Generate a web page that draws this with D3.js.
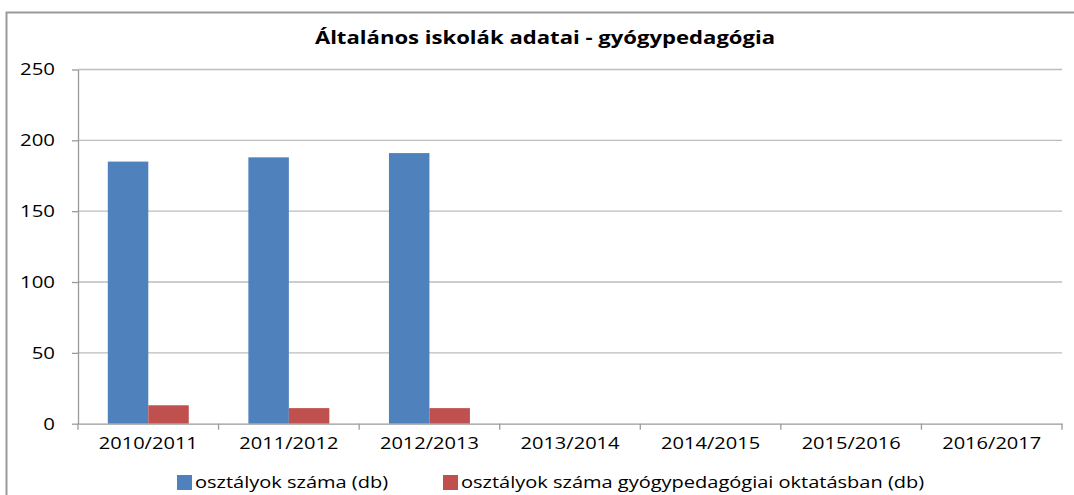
<!doctype html>
<html>
<head>
<meta charset="utf-8">
<style>
  body { margin: 0; background: #fff; }
  text { font-family: "Open Sans", "Liberation Sans", sans-serif; fill: #000; }
</style>
<script src="https://d3js.org/d3.v7.min.js"></script>
</head>
<body>
<svg width="1074" height="495"></svg>
<script>
// chart data
var years = ["2010/2011", "2011/2012", "2012/2013", "2013/2014", "2014/2015", "2015/2016", "2016/2017"];
var seriesNames = ["osztályok száma (db)", "osztályok száma gyógypedagógiai oktatásban (db)"];
var classes = [185, 188, 191, null, null, null, null];
var specialClasses = [13, 11, 11, null, null, null, null];
var yTicks = [0, 50, 100, 150, 200, 250];
var colors = ["#4f81bd", "#c0504d"];

var svg = d3.select("svg");

// outer frame (only left and top visible in the picture)
svg.append("path")
   .attr("d", "M6.5,495V12.5H1074")
   .attr("fill", "none")
   .attr("stroke", "#9a9a9a")
   .attr("stroke-width", 2);

var plotLeft = 78, plotRight = 1062, plotTop = 69.5, plotBottom = 423.7;

var x = d3.scaleBand().domain(years).range([plotLeft, plotRight]).padding(0);
var xs = d3.scaleBand().domain([0, 1]).range([0, x.bandwidth()]).paddingInner(0).paddingOuter(0.736);
var y = d3.scaleLinear().domain([0, 250]).range([plotBottom, plotTop]);

svg.append("text")
   .attr("transform", "translate(545,44) scale(1.3,1)")
   .attr("text-anchor", "middle")
   .attr("font-size", "17px")
   .attr("font-weight", "bold")
   .text("Általános iskolák adatai - gyógypedagógia");

// grid
svg.append("g")
   .selectAll("line")
   .data(yTicks.filter(function(d) { return d > 0; }))
   .enter().append("line")
   .attr("x1", plotLeft).attr("x2", plotRight)
   .attr("y1", function(d) { return y(d); })
   .attr("y2", function(d) { return y(d); })
   .attr("stroke", "#bdbdbd")
   .attr("stroke-width", 1.3);

// y axis
var yAxis = svg.append("g")
   .attr("transform", "translate(" + plotLeft + ",0)")
   .call(d3.axisLeft(y).tickValues(yTicks).tickSize(6).tickSizeOuter(0).tickPadding(0));
yAxis.select(".domain").attr("stroke", "#9a9a9a").attr("stroke-width", 1.3);
yAxis.selectAll(".tick line").attr("stroke", "#9a9a9a").attr("stroke-width", 1.3);
yAxis.selectAll(".tick text")
   .attr("x", null)
   .attr("transform", "translate(-23,0) scale(1.2,1)")
   .attr("font-size", "17px").attr("fill", "#000");

// bars
var data = years.map(function(d, i) { return { year: d, vals: [classes[i], specialClasses[i]] }; });
var groups = svg.append("g").selectAll("g")
   .data(data)
   .enter().append("g")
   .attr("transform", function(d) { return "translate(" + x(d.year) + ",0)"; });
groups.selectAll("rect")
   .data(function(d) { return d.vals.map(function(v, k) { return { k: k, v: v }; }).filter(function(e) { return e.v != null; }); })
   .enter().append("rect")
   .attr("x", function(d) { return xs(d.k); })
   .attr("width", xs.bandwidth())
   .attr("y", function(d) { return y(d.v); })
   .attr("height", function(d) { return plotBottom - y(d.v); })
   .attr("fill", function(d) { return colors[d.k]; });

// x axis
var xAxis = svg.append("g")
   .attr("transform", "translate(0," + plotBottom + ")")
   .call(d3.axisBottom(x).tickSize(0).tickSizeOuter(0).tickPadding(0));
xAxis.select(".domain").attr("stroke", "#9a9a9a").attr("stroke-width", 1.3);
xAxis.selectAll(".tick text")
   .attr("y", null).attr("dy", null)
   .attr("transform", "translate(0,25) scale(1.18,1)")
   .attr("font-size", "17px").attr("fill", "#000");
xAxis.selectAll(".sep")
   .data(years.concat(["end"]))
   .enter().append("line")
   .attr("x1", function(d, i) { return plotLeft + i * x.step(); })
   .attr("x2", function(d, i) { return plotLeft + i * x.step(); })
   .attr("y1", 0).attr("y2", 6)
   .attr("stroke", "#9a9a9a").attr("stroke-width", 1.3);

// legend
var legend = svg.append("g");
var legendX = [177, 443];
seriesNames.forEach(function(name, i) {
  legend.append("rect")
     .attr("x", legendX[i]).attr("y", 475)
     .attr("width", 15).attr("height", 15)
     .attr("fill", colors[i]);
  legend.append("text")
     .attr("transform", "translate(" + (legendX[i] + 18) + ",488) scale(1.25,1)")
     .attr("font-size", "16px")
     .text(name);
});
</script>
</body>
</html>
